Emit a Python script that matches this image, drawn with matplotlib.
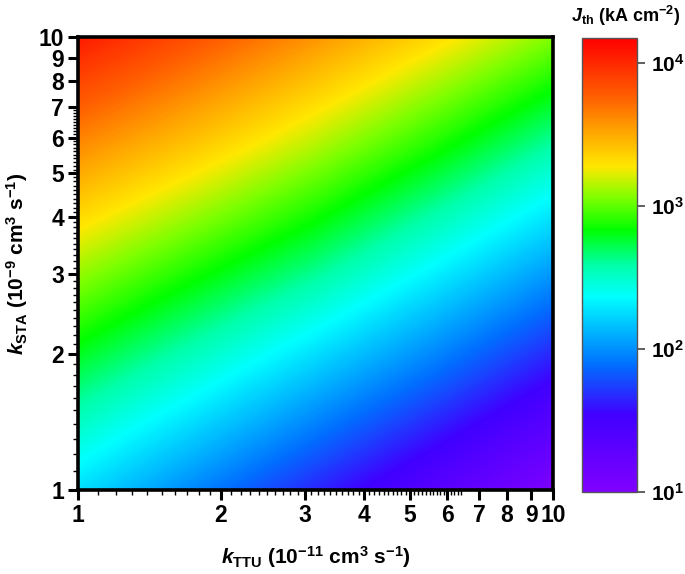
import matplotlib
matplotlib.use('Agg')
import matplotlib.pyplot as plt
import numpy as np
from matplotlib.colors import LinearSegmentedColormap, Normalize

plt.rcParams['font.family'] = ['Liberation Sans', 'DejaVu Sans']
plt.rcParams['font.weight'] = 'bold'
plt.rcParams['mathtext.fontset'] = 'custom'
plt.rcParams['mathtext.rm'] = 'Liberation Sans:bold'
plt.rcParams['mathtext.bf'] = 'Liberation Sans:bold'
plt.rcParams['mathtext.it'] = 'Liberation Sans:bold:italic'
plt.rcParams['mathtext.default'] = 'rm'

log_kttu = [0.0, 0.25, 0.5, 0.75, 1.0]   # 1 ... 10 (1e-11 cm3 s-1)
log_ksta = [0.0, 0.25, 0.5, 0.75, 1.0]   # 1 ... 10 (1e-9 cm3 s-1)

# log10 J_th (kA cm-2), rows = k_STA from bottom to top
log_jth_row0 = [2.26, 1.96, 1.66, 1.35, 1.03]
log_jth_row1 = [2.70, 2.44, 2.16, 1.87, 1.56]
log_jth_row2 = [3.14, 2.90, 2.66, 2.37, 2.07]
log_jth_row3 = [3.59, 3.37, 3.13, 2.86, 2.57]
log_jth_row4 = [4.06, 3.82, 3.58, 3.33, 3.07]

ticks = [1, 2, 3, 4, 5, 6, 7, 8, 9, 10]
cbar_ticks = [1, 2, 3, 4]
cbar_labels = ['10$^{1}$', '10$^{2}$', '10$^{3}$', '10$^{4}$']

rainbow = LinearSegmentedColormap.from_list('origin_rainbow', [
    (0.00, '#8000ff'),
    (0.17, '#4000ff'),
    (0.28, '#0070ff'),
    (0.43, '#00ffff'),
    (0.50, '#00ffa8'),
    (0.577, '#00ff00'),
    (0.65, '#80ff00'),
    (0.717, '#ffe800'),
    (0.80, '#ffa000'),
    (0.87, '#ff6000'),
    (1.00, '#ff0000'),
])

Z = np.array([log_jth_row0, log_jth_row1, log_jth_row2, log_jth_row3, log_jth_row4])
dx = (log_kttu[1] - log_kttu[0]) / 2
dy = (log_ksta[1] - log_ksta[0]) / 2

fig = plt.figure(figsize=(6.85, 5.74), dpi=100)
ax = fig.add_axes([0.114, 0.146, 0.693, 0.7895])
norm = Normalize(vmin=1, vmax=4.175)
im = ax.imshow(Z, origin='lower', cmap=rainbow, norm=norm, aspect='auto',
               interpolation='bilinear', interpolation_stage='data',
               extent=[log_kttu[0] - dx, log_kttu[-1] + dx,
                       log_ksta[0] - dy, log_ksta[-1] + dy])
ax.set_xlim(0, 1)
ax.set_ylim(0, 1)

ax.set_xticks(np.log10(ticks))
ax.set_xticklabels([str(t) for t in ticks])
ax.set_yticks(np.log10(ticks))
ax.set_yticklabels([str(t) for t in ticks])

# dense minor ticks like the original software
xminor = list(np.arange(1.1, 6.5, 0.1))
yminor = list(np.arange(1.1, 7.0, 0.1))
ax.set_xticks(np.log10(xminor), minor=True)
ax.set_yticks(np.log10(yminor), minor=True)

for s in ax.spines.values():
    s.set_linewidth(2.6)
ax.tick_params(which='major', direction='out', length=7, width=2.2,
               labelsize=16.5, pad=3)
ax.tick_params(which='minor', direction='out', length=3.5, width=1.0)

ax.set_xlabel('$\\mathit{k}_{\\mathrm{TTU}}$ (10$^{-11}$ cm$^{3}$ s$^{-1}$)',
              fontsize=15, fontweight='bold', labelpad=12)
ax.set_ylabel('$\\mathit{k}_{\\mathrm{STA}}$ (10$^{-9}$ cm$^{3}$ s$^{-1}$)',
              fontsize=15, fontweight='bold', labelpad=6)

cax = fig.add_axes([0.850, 0.143, 0.080, 0.791])
cb = fig.colorbar(im, cax=cax, ticks=cbar_ticks)
cb.set_ticklabels(cbar_labels)
cb.outline.set_edgecolor('#555555')
cb.outline.set_linewidth(1.0)
cax.tick_params(length=6, width=1.2, color='#444444', labelsize=15, pad=4)
cax.minorticks_off()
fig.text(0.993, 0.972, '$\\mathit{J}_{\\mathrm{th}}$ (kA cm$^{-2}$)',
         ha='right', va='center', fontsize=13, fontweight='bold')

fig.savefig('out.png', dpi=100)
